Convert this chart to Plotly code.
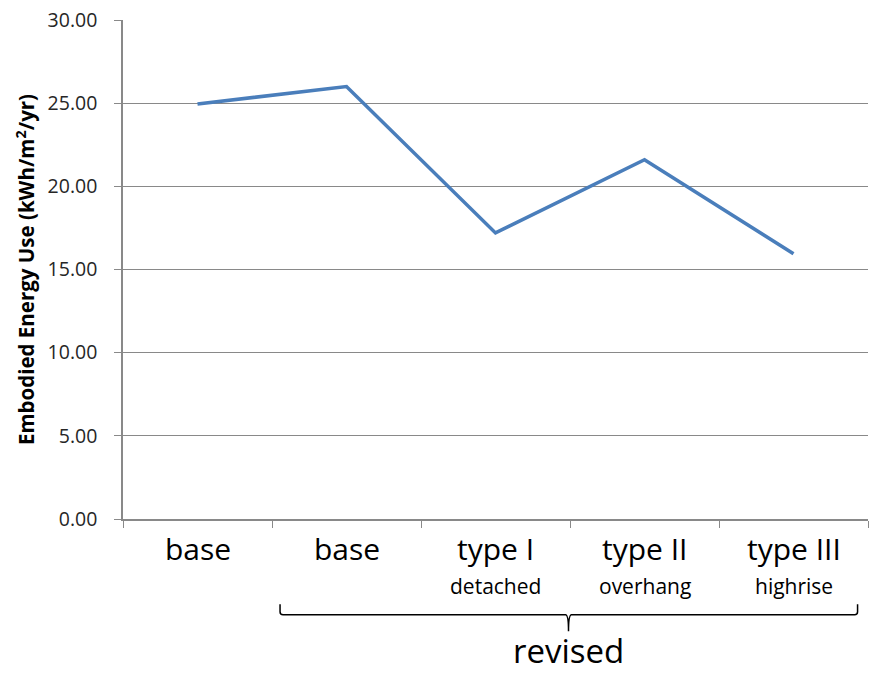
import plotly.graph_objects as go

# Embodied energy per scheme
schemes = ["base", "base", "type I", "type II", "type III"]
subtypes = ["", "", "detached", "overhang", "highrise"]
energy = [24.95, 26.0, 17.2, 21.6, 15.95]
y_ticks = [0, 5, 10, 15, 20, 25, 30]
group_label = "revised"

FONT = "Open Sans"
x_idx = list(range(len(schemes)))

fig = go.Figure()
fig.add_trace(go.Scatter(
    x=x_idx, y=energy, mode="lines",
    line=dict(color="#4A7EBB", width=3.6),
    hoverinfo="skip", showlegend=False,
))

# Category labels and sub-labels under the axis
annotations = []
for i, (name, sub) in enumerate(zip(schemes, subtypes)):
    annotations.append(dict(x=i, y=-0.059, xref="x", yref="paper", text=name,
                            showarrow=False, yanchor="middle",
                            font=dict(family=FONT, size=30, color="#000000")))
    if sub:
        annotations.append(dict(x=i, y=-0.134, xref="x", yref="paper", text=sub,
                                showarrow=False, yanchor="middle",
                                font=dict(family=FONT, size=21, color="#000000")))

# Brace grouping the revised schemes
bx0, bx1, bmid = 0.554, 4.43, 2.49
ytop, ybar, ytip = -0.171, -0.192, -0.225
dx = 0.02
path = (f"M {bx0},{ytop} L {bx0},{ybar + 0.006} Q {bx0},{ybar} {bx0 + dx},{ybar} "
        f"L {bmid - dx},{ybar} Q {bmid},{ybar} {bmid},{ytip} "
        f"Q {bmid},{ybar} {bmid + dx},{ybar} "
        f"L {bx1 - dx},{ybar} Q {bx1},{ybar} {bx1},{ybar + 0.006} L {bx1},{ytop}")
fig.add_shape(type="path", path=path, xref="x", yref="paper",
              line=dict(color="#000000", width=1.5))
annotations.append(dict(x=bmid, y=-0.264, xref="x", yref="paper", text=group_label,
                        showarrow=False, yanchor="middle",
                        font=dict(family=FONT, size=33, color="#000000")))

fig.update_layout(
    width=869, height=676,
    margin=dict(l=123, r=1, t=19.5, b=156.5),
    paper_bgcolor="white", plot_bgcolor="white",
    annotations=annotations,
    xaxis=dict(
        range=[-0.5, len(schemes) - 0.5],
        tickvals=[i - 0.5 for i in range(len(schemes) + 1)],
        showticklabels=False,
        ticks="outside", ticklen=7, tickcolor="#898989",
        showgrid=False, zeroline=False,
        showline=True, linecolor="#898989", linewidth=1.5,
    ),
    yaxis=dict(
        range=[0, 30], tickvals=y_ticks, tickformat=".2f",
        ticks="outside", ticklen=7, tickcolor="#898989",
        ticklabelstandoff=13,
        showgrid=True, gridcolor="#898989", gridwidth=1,
        zeroline=False, showline=True, linecolor="#898989", linewidth=1.5,
        tickfont=dict(family=FONT, size=19.5, color="#262626"),
        title=dict(text="<b>Embodied Energy Use (kWh/m<sup>2</sup>/yr)</b>",
                   font=dict(family=FONT, size=20.5, color="#000000"), standoff=7),
    ),
)

fig.write_html("out.html")
